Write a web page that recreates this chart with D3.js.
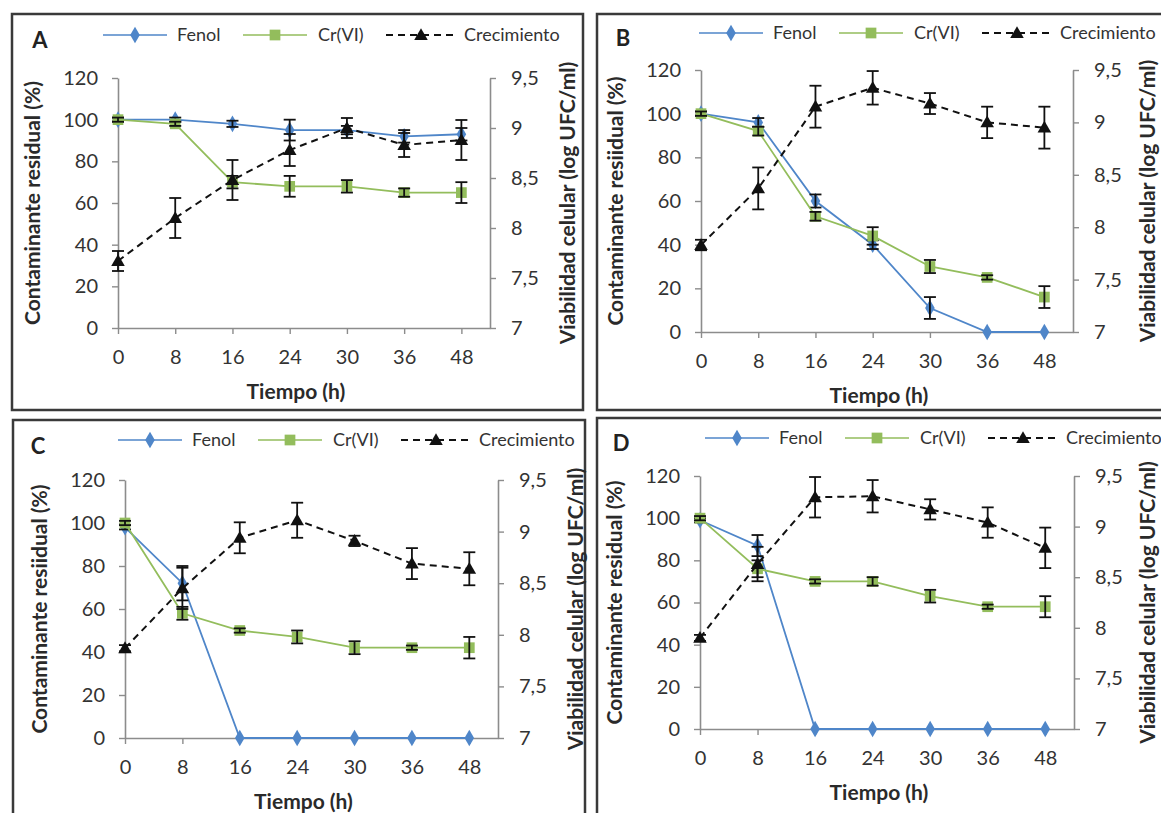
<!DOCTYPE html>
<html>
<head>
<meta charset="utf-8">
<script src="https://cdn.jsdelivr.net/npm/d3@7/dist/d3.min.js"></script>
<style>
body{margin:0;background:#fff;}
text{font-family:Lato,"Open Sans",sans-serif;}
</style>
</head>
<body>
<script>
var canvaswidth=1161;
var canvasheight=813;

var categories=["0","8","16","24","30","36","48"]; //tiempo (h)
var leftTicks=[0,20,40,60,80,100,120];
var rightTicks=[7,7.5,8,8.5,9,9.5];
var seriesNames=["Fenol","Cr(VI)","Crecimiento"];

//panel A
var fenolA=[100,100,98,95,95,92,93];
var fenolErrA=[1,1,1.5,5,2,3,3];
var crA=[100,98,70,68,68,65,65];
var crErrA=[1,1,3,5,3,2,5];
var crecA=[7.67,8.1,8.48,8.78,9.0,8.83,8.88];
var crecErrA=[0.1,0.2,0.2,0.16,0.1,0.12,0.2];
//panel B
var fenolB=[100,96,60,40,11,0,0];
var fenolErrB=[1,2,3,2,5,0,0];
var crB=[100,92,53,44,30,25,16];
var crErrB=[1,2,2,4,3,1,5];
var crecB=[7.83,8.37,9.15,9.33,9.18,9.0,8.95];
var crecErrB=[0.05,0.2,0.2,0.16,0.1,0.15,0.2];
//panel C
var fenolC=[98,72,0,0,0,0,0];
var fenolErrC=[1,8,0,0,0,0,0];
var crC=[100,58,50,47,42,42,42];
var crErrC=[1,3,1,3,3,1,5];
var crecC=[7.87,8.45,8.94,9.11,8.91,8.69,8.64];
var crecErrC=[0.03,0.2,0.15,0.17,0.05,0.15,0.16];
//panel D
var fenolD=[99,87,0,0,0,0,0];
var fenolErrD=[1,5,0,0,0,0,0];
var crD=[100,76,70,70,63,58,58];
var crErrD=[1,4,1,2,3,1,5];
var crecD=[7.9,8.63,9.29,9.3,9.17,9.04,8.79];
var crecErrD=[0.03,0.17,0.2,0.16,0.1,0.15,0.2];

var blue="#4f86c9";
var green="#93bd5c";
var axisgrey="#8c8c8c";
var textcol="#333";

var panels=[
	{label:"A",fenol:fenolA,fenolErr:fenolErrA,cr:crA,crErr:crErrA,crec:crecA,crecErr:crecErrA,ytitle:"Contaminante residual (%)",
	 box:[12,14,571,396],left:118,right:490,top:78,bottom:328,legx:103,legy:35,labx:40,laby:48},
	{label:"B",fenol:fenolB,fenolErr:fenolErrB,cr:crB,crErr:crErrB,crec:crecB,crecErr:crecErrB,ytitle:"Contaminante resiidual (%)",
	 box:[597,14,600,396],left:701,right:1073,top:70,bottom:332,legx:699,legy:33,labx:623,laby:46},
	{label:"C",fenol:fenolC,fenolErr:fenolErrC,cr:crC,crErr:crErrC,crec:crecC,crecErr:crecErrC,ytitle:"Contaminante resiidual (%)",
	 box:[13,420,572,420],left:125,right:498,top:480,bottom:738,legx:118,legy:440,labx:38,laby:454},
	{label:"D",fenol:fenolD,fenolErr:fenolErrD,cr:crD,crErr:crErrD,crec:crecD,crecErr:crecErrD,ytitle:"Contaminante residual (%)",
	 box:[597,418,600,420],left:700,right:1074,top:476,bottom:729,legx:705,legy:438,labx:621,laby:451}
];

var svg=d3.select("body").append("svg").attr("width",canvaswidth).attr("height",canvasheight);
svg.append("rect").attr("width",canvaswidth).attr("height",canvasheight).attr("fill","#fff");

var diamond=d3.symbol().type(d3.symbolDiamond).size(80);
var square=d3.symbol().type(d3.symbolSquare).size(115);
var triangle=d3.symbol().type(d3.symbolTriangle).size(80);

function errorBars(g,x,y,vals,errs,name) {
	var eb=g.append("g").attr("class","err-"+name);
	vals.forEach(function(v,i) {
		if (!errs[i]) return;
		var cx=x(categories[i]);
		var y1=y(v+errs[i]), y2=y(v-errs[i]);
		eb.append("line").attr("x1",cx).attr("x2",cx).attr("y1",y1).attr("y2",y2).attr("stroke","#111").attr("stroke-width",1.8);
		eb.append("line").attr("x1",cx-6).attr("x2",cx+6).attr("y1",y1).attr("y2",y1).attr("stroke","#111").attr("stroke-width",1.8);
		eb.append("line").attr("x1",cx-6).attr("x2",cx+6).attr("y1",y2).attr("y2",y2).attr("stroke","#111").attr("stroke-width",1.8);
	});
}

function drawPanel(p) {
	var g=svg.append("g").attr("id","panel"+p.label);
	g.append("rect").attr("x",p.box[0]).attr("y",p.box[1]).attr("width",p.box[2]).attr("height",p.box[3])
		.attr("fill","none").attr("stroke","#3a3a3a").attr("stroke-width",2.5); //marco

	var x=d3.scalePoint().domain(categories).range([p.left,p.right]).padding(0.25).align(0);
	var yl=d3.scaleLinear().domain([0,120]).range([p.bottom,p.top]);
	var yr=d3.scaleLinear().domain([7,9.5]).range([p.bottom,p.top]);

	//axes
	var ax=g.append("g").attr("transform","translate(0,"+p.bottom+")")
		.call(d3.axisBottom(x).tickSize(6).tickSizeOuter(0).tickPadding(16));
	var al=g.append("g").attr("transform","translate("+p.left+",0)")
		.call(d3.axisLeft(yl).tickValues(leftTicks).tickSize(6).tickSizeOuter(0).tickPadding(14));
	var ar=g.append("g").attr("transform","translate("+p.right+",0)")
		.call(d3.axisRight(yr).tickValues(rightTicks).tickSize(6).tickSizeOuter(0).tickPadding(15)
		.tickFormat(function(d){return String(d).replace(".",",");}));
	[ax,al,ar].forEach(function(a) {
		a.select(".domain").attr("stroke",axisgrey).attr("stroke-width",1.6);
		a.selectAll(".tick line").attr("stroke",axisgrey).attr("stroke-width",1.4);
		a.selectAll(".tick text").attr("fill",textcol).attr("font-size",20).attr("font-family","Lato");
	});

	//titles
	var midy=(p.top+p.bottom)/2;
	g.append("text").attr("transform","translate("+(p.left-85)+","+midy+") rotate(-90)").attr("text-anchor","middle")
		.attr("dy","0.35em").attr("font-size",21).attr("font-weight","bold").attr("fill","#2a2a2a").text(p.ytitle);
	g.append("text").attr("transform","translate("+Math.min(p.right+78,1148)+","+midy+") rotate(-90)").attr("text-anchor","middle")
		.attr("dy","0.35em").attr("font-size",21).attr("font-weight","bold").attr("fill","#2a2a2a").text("Viabilidad celular (log UFC/ml)");
	g.append("text").attr("x",(p.left+p.right)/2-8).attr("y",p.bottom+64).attr("dy","0.35em").attr("text-anchor","middle")
		.attr("font-size",21).attr("font-weight","bold").attr("fill","#2a2a2a").text("Tiempo (h)");
	g.append("text").attr("x",p.labx).attr("y",p.laby).attr("text-anchor","middle").attr("font-size",22)
		.attr("font-weight","bold").attr("fill","#222").text(p.label); //letra del panel

	//Fenol
	var lineL=d3.line().x(function(d,i){return x(categories[i]);}).y(function(d){return yl(d);});
	var lineR=d3.line().x(function(d,i){return x(categories[i]);}).y(function(d){return yr(d);});
	g.append("path").attr("d",lineL(p.fenol)).attr("fill","none").attr("stroke",blue).attr("stroke-width",1.8);
	g.selectAll(".mfenol").data(p.fenol).enter().append("path").attr("class","mfenol").attr("d",diamond)
		.attr("transform",function(d,i){return "translate("+x(categories[i])+","+yl(d)+")";}).attr("fill",blue);
	errorBars(g,x,yl,p.fenol,p.fenolErr,"fenol");
	//Cr(VI)
	g.append("path").attr("d",lineL(p.cr)).attr("fill","none").attr("stroke",green).attr("stroke-width",1.8);
	g.selectAll(".mcr").data(p.cr).enter().append("path").attr("class","mcr").attr("d",square)
		.attr("transform",function(d,i){return "translate("+x(categories[i])+","+yl(d)+")";}).attr("fill",green);
	errorBars(g,x,yl,p.cr,p.crErr,"cr");
	//Crecimiento
	g.append("path").attr("d",lineR(p.crec)).attr("fill","none").attr("stroke","#111").attr("stroke-width",2).attr("stroke-dasharray","7,5");
	g.selectAll(".mcrec").data(p.crec).enter().append("path").attr("class","mcrec").attr("d",triangle)
		.attr("transform",function(d,i){return "translate("+x(categories[i])+","+(yr(d)+1)+")";}).attr("fill","#111");
	errorBars(g,x,yr,p.crec,p.crecErr,"crec");

	//legend
	var offs=[0,140,283];
	var lens=[64,64,70];
	var syms=[diamond,square,triangle];
	var cols=[blue,green,"#111"];
	seriesNames.forEach(function(name,k) {
		var lx=p.legx+offs[k];
		g.append("line").attr("x1",lx).attr("x2",lx+lens[k]).attr("y1",p.legy).attr("y2",p.legy).attr("stroke",cols[k])
			.attr("stroke-width",k==2?2:1.6).attr("stroke-dasharray",k==2?"7,5":null);
		g.append("path").attr("d",syms[k]).attr("transform","translate("+(lx+lens[k]/2)+","+(p.legy+(k==2?1:0))+")").attr("fill",cols[k]);
		g.append("text").attr("x",lx+lens[k]+(k==1?11:8)+(k==0?2:0)).attr("y",p.legy).attr("dy","0.35em").attr("font-size",18)
			.attr("fill",textcol).text(name);
	});
}

panels.forEach(drawPanel);
</script>
</body>
</html>
